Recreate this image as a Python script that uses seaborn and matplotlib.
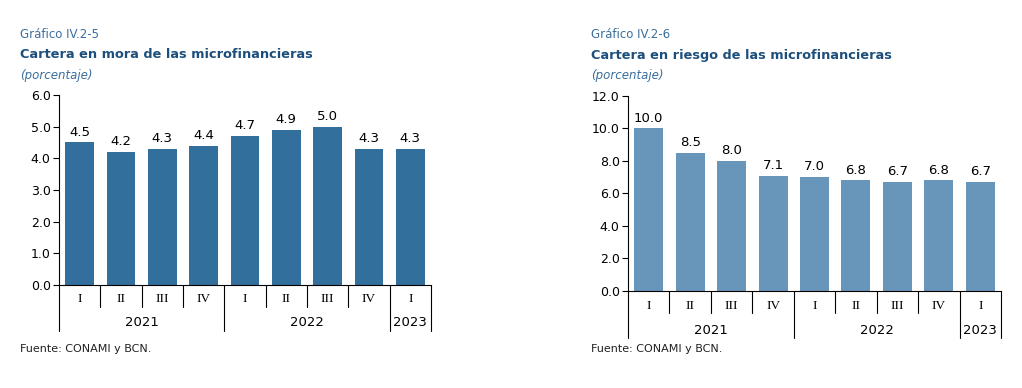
import numpy as np
import pandas as pd
import matplotlib
matplotlib.use('Agg')
import matplotlib.pyplot as plt
import seaborn as sns

# datos
trimestres = ['I', 'II', 'III', 'IV', 'I', 'II', 'III', 'IV', 'I']
anios = ['2021', '2022', '2023']
trim_por_anio = [4, 4, 1]
mora = [4.5, 4.2, 4.3, 4.4, 4.7, 4.9, 5.0, 4.3, 4.3]
riesgo = [10.0, 8.5, 8.0, 7.1, 7.0, 6.8, 6.7, 6.8, 6.7]

sns.set_style('white')
plt.rcParams['font.family'] = ['DejaVu Sans']
plt.rcParams['text.color'] = 'black'
plt.rcParams['axes.edgecolor'] = 'black'
plt.rcParams['ytick.color'] = 'black'
plt.rcParams['ytick.labelcolor'] = 'black'

azul_titulo = '#1d4f7c'
azul_sub = '#3a6d9c'

fig = plt.figure(figsize=(10.22, 3.88), dpi=100)


def grafico(ax, valores, color, ymax, paso):
    df = pd.DataFrame({'pos': list(range(len(valores))), 'valor': valores})
    sns.barplot(data=df, x='pos', y='valor', color=color, width=0.7,
                saturation=1, ax=ax, native_scale=True, linewidth=0)
    ax.set_xlim(-0.5, len(valores) - 0.5)
    ax.set_ylim(0, ymax)
    ticks = np.arange(0, ymax + 0.01, paso)
    ax.set_yticks(ticks)
    ax.set_yticklabels([f'{v:.1f}' for v in ticks], fontsize=9)
    ax.set_xticks([])
    ax.set_xlabel('')
    ax.set_ylabel('')
    for s in ['top', 'right']:
        ax.spines[s].set_visible(False)
    ax.spines['left'].set_linewidth(0.8)
    ax.spines['bottom'].set_linewidth(0.8)
    ax.tick_params(axis='y', length=4, width=0.8, pad=2, direction='out', left=True)
    for i, v in enumerate(valores):
        ax.text(i, v + ymax * 0.02, f'{v:.1f}', ha='center', va='bottom', fontsize=9.5)
    tr = ax.get_xaxis_transform()
    # etiquetas de trimestres
    for i, t in enumerate(trimestres):
        ax.text(i, -0.075, t, transform=tr, ha='center', va='center',
                fontsize=9.5, family='Liberation Serif')
    # separadores
    limites = list(np.cumsum([0] + trim_por_anio) - 0.5)
    for b in np.arange(-0.5, len(valores), 1.0):
        largo = -0.24 if b in limites else -0.115
        ax.plot([b, b], [0, largo], transform=tr, color='black', lw=0.8, clip_on=False)
    for k, a in enumerate(anios):
        centro = (limites[k] + limites[k + 1]) / 2
        ax.text(centro, -0.2, a, transform=tr, ha='center', va='center', fontsize=9.5)


ax1 = fig.add_axes([0.0577, 0.2655, 0.364, 0.4897])
grafico(ax1, mora, '#336f9d', 6.0, 1.0)
ax2 = fig.add_axes([0.6145, 0.25, 0.365, 0.5026])
grafico(ax2, riesgo, '#6895ba', 12.0, 2.0)

for x0, num, titulo in [(0.0196, 'Gráfico IV.2-5', 'Cartera en mora de las microfinancieras'),
                        (0.578, 'Gráfico IV.2-6', 'Cartera en riesgo de las microfinancieras')]:
    fig.text(x0, 1 - 35 / 388, num, fontsize=8.5, color=azul_sub, va='center')
    fig.text(x0, 1 - 55 / 388, titulo, fontsize=9.3, fontweight='bold', color=azul_titulo, va='center')
    fig.text(x0, 1 - 75 / 388, '(porcentaje)', fontsize=8.5, style='italic', color=azul_sub, va='center')
    fig.text(x0, 1 - 349 / 388, 'Fuente: CONAMI y BCN.', fontsize=8, color='#222222', va='center')

fig.savefig('out.png', dpi=100)
